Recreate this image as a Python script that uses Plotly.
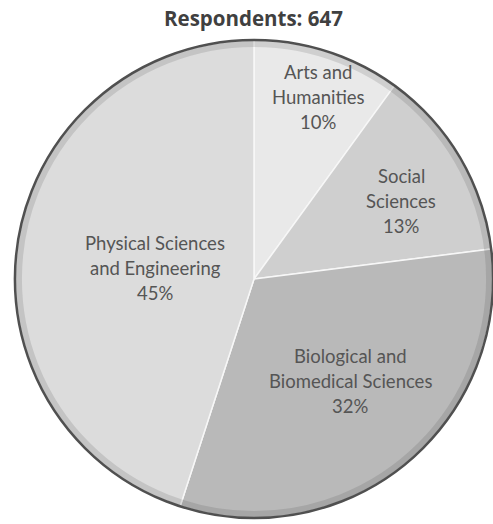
import plotly.graph_objects as go

# Survey respondents by field of study
categories = ["Arts and Humanities", "Social Sciences",
              "Biological and Biomedical Sciences",
              "Physical Sciences and Engineering"]
shares = [10, 13, 32, 45]
respondents = 647

# Multi-line label text for each slice (value appended below)
label_lines = [
    ["Arts and", "Humanities"],
    ["Social", "Sciences"],
    ["Biological and", "Biomedical Sciences"],
    ["Physical Sciences", "and Engineering"],
]

slice_colors = ["#e9e9e9", "#cfcfcf", "#b9b9b9", "#dcdcdc"]

W, H = 493, 524
cx, cy, r = 254, 279, 239  # pie centre / radius in pixels (from top-left)


def domain(radius):
    return dict(
        x=[(cx - radius) / W, (cx + radius) / W],
        y=[(H - cy - radius) / H, (H - cy + radius) / H],
    )


fig = go.Figure()

fig.add_trace(go.Pie(
    labels=categories,
    values=shares,
    sort=False,
    direction="clockwise",
    rotation=0,
    marker=dict(colors=slice_colors, line=dict(color="#f7f7f7", width=1.5)),
    textinfo="none",
    hoverinfo="label+percent",
    showlegend=False,
    domain=domain(r),
))

# soft shaded band just inside the rim
fig.add_trace(go.Pie(
    values=[1],
    marker=dict(colors=["rgba(0,0,0,0)"], line=dict(color="rgba(60,60,60,0.15)", width=6)),
    textinfo="none", hoverinfo="skip", showlegend=False, sort=False,
    domain=domain(r - 4),
))

# dark outer rim
fig.add_trace(go.Pie(
    values=[1],
    marker=dict(colors=["rgba(0,0,0,0)"], line=dict(color="#505050", width=2.5)),
    textinfo="none", hoverinfo="skip", showlegend=False, sort=False,
    domain=domain(r),
))

# label block centres (pixels from top-left) and line spacing
label_centres = [(318, 97), (401, 201), (350, 381), (155, 268)]
line_gap = 25

annotations = []
for lines, value, (lx, ly) in zip(label_lines, shares, label_centres):
    rows = lines + [f"{value}%"]
    n = len(rows)
    for i, row in enumerate(rows):
        y_px = ly + (i - (n - 1) / 2) * line_gap
        annotations.append(dict(
            x=lx / W, y=1 - y_px / H, xref="paper", yref="paper",
            xanchor="center", yanchor="middle", showarrow=False,
            text=row, font=dict(family="Lato", size=18.5, color="#555555"),
        ))

annotations.append(dict(
    x=254 / W, y=1 - 18 / H, xref="paper", yref="paper",
    xanchor="center", yanchor="middle", showarrow=False,
    text=f"<b>Respondents: {respondents}</b>",
    font=dict(family="Open Sans", size=20.5, color="#404040"),
))

fig.update_layout(
    width=W, height=H,
    margin=dict(l=0, r=0, t=0, b=0),
    paper_bgcolor="white",
    plot_bgcolor="white",
    annotations=annotations,
)

fig.write_html("out.html")
